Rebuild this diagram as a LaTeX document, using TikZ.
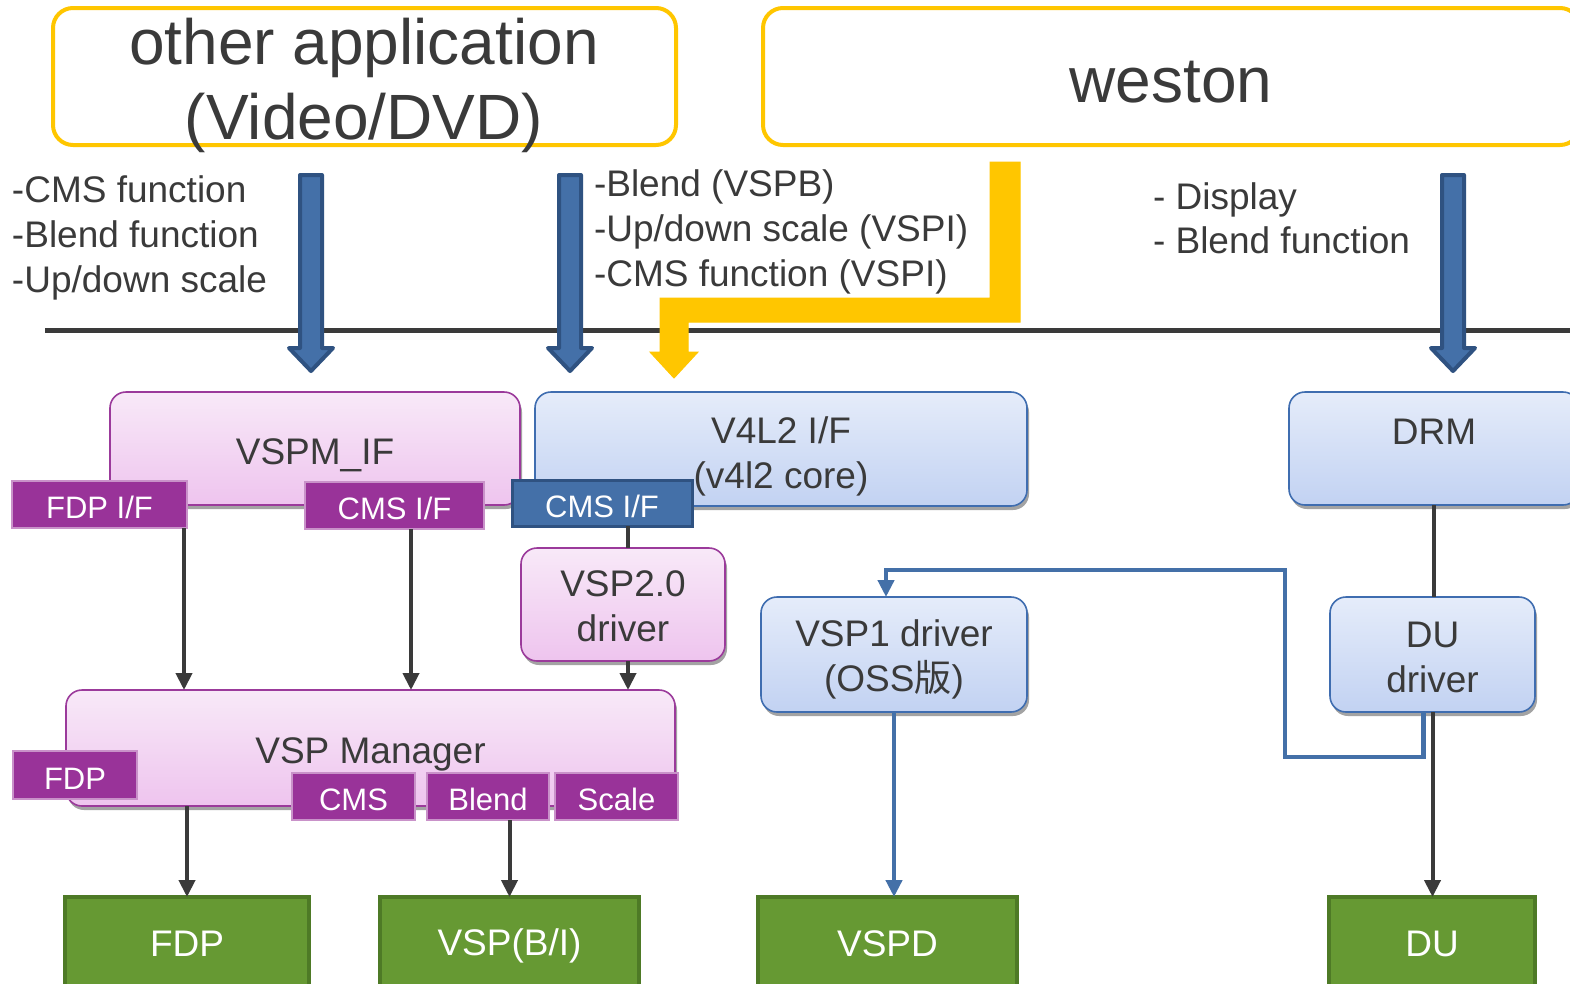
\documentclass[tikz,border=0pt]{standalone}
\usepackage{fontspec}
\setmainfont{Liberation Sans}
\newfontfamily\cjk{Noto Sans CJK JP}
\usetikzlibrary{shadows,arrows.meta,calc}
\definecolor{txt}{HTML}{3A3A3A}
\definecolor{ylw}{HTML}{FFC600}
\definecolor{pinkT}{HTML}{F8E9F8}
\definecolor{pinkB}{HTML}{EEC4EE}
\definecolor{pinkD}{HTML}{9B3A9B}
\definecolor{tabP}{HTML}{993399}
\definecolor{tabPB}{HTML}{C992C9}
\definecolor{blueT}{HTML}{E5ECFA}
\definecolor{blueB}{HTML}{C2D2F2}
\definecolor{blueD}{HTML}{3F6DB0}
\definecolor{arrB}{HTML}{4470A8}
\definecolor{arrBD}{HTML}{2F5281}
\definecolor{grn}{HTML}{669933}
\definecolor{grnD}{HTML}{4E7A26}
\newcommand\bkarrow[1]{%
  \draw[barrow] ({#1-11},175) -- ({#1+11},175) -- ({#1+11},348) -- ({#1+22},348)
     -- (#1,371) -- ({#1-22},348) -- ({#1-11},348) -- cycle;}
\tikzset{
  every node/.style={inner sep=0pt, outer sep=0pt},
  appbox/.style={draw=ylw, line width=4pt, rounded corners=20pt, fill=white},
  apptext/.style={text=txt, font=\fontsize{64}{75}\selectfont, align=center},
  sidetext/.style={text=txt, font=\fontsize{37}{45}\selectfont, align=left, anchor=west},
  shade/.style={drop shadow={shadow xshift=2pt, shadow yshift=-4pt, fill=black!45, opacity=0.8}},
  pinkbox/.style={draw=pinkD, line width=1.6pt, rounded corners=16pt, top color=pinkT, bottom color=pinkB, shade},
  bluebox/.style={draw=blueD, line width=1.6pt, rounded corners=16pt, top color=blueT, bottom color=blueB, shade},
  lbl/.style={text=txt, font=\fontsize{37}{45}\selectfont, align=center},
  wlbl/.style={text=white, font=\fontsize{31}{36}\selectfont},
  glbl/.style={text=white, font=\fontsize{37}{45}\selectfont},
  ptab/.style={fill=tabP, draw=tabPB, line width=2.5pt},
  btab/.style={fill=arrB, draw=arrBD, line width=3pt},
  gbox/.style={fill=grn, draw=grnD, line width=4pt},
  conn/.style={draw=txt, line width=4pt, -{Triangle[length=17pt,width=16pt]}},
  plain/.style={draw=txt, line width=4pt},
  bconn/.style={draw=arrB, line width=4.5pt, -{Triangle[length=17pt,width=16pt]}},
  barrow/.style={fill=arrB, draw=arrBD, line width=4pt, line join=round},
  yarrow/.style={fill=ylw, draw=ylw, line width=1pt},
  sep/.style={draw=txt, line width=5pt}
}
\begin{document}
\begin{tikzpicture}[x=1pt,y=-1pt]
\useasboundingbox (0,0) rectangle (1570,983);
\fill[white] (0,0) rectangle (1570,983);

% application boxes
\node[appbox, minimum width=623pt, minimum height=137pt] (app) at (364.5,76.5) {};
\node[apptext] (apptxt) at (364,85.5) {other application\\(Video/DVD)};
\node[appbox, minimum width=817pt, minimum height=137pt] (weston) at (1171.5,76.5) {};
\node[apptext] (westontxt) at (1171,82) {weston};

% side texts
\node[sidetext] (t1) at (12,238) {-CMS function\\-Blend function\\-Up/down scale};
\node[sidetext] (t2) at (594,232) {-Blend (VSPB)\\-Up/down scale (VSPI)\\-CMS function (VSPI)};
\node[sidetext, font=\fontsize{37}{44}\selectfont] (t3) at (1153,218) {- Display\\- Blend function};

% separator line
\coordinate (sepL) at (45,330);
\coordinate (sepR) at (1570,330);
\draw[sep] (sepL) -- (sepR);

% block arrows
\bkarrow{311}
\bkarrow{570}
\bkarrow{1453}
\draw[yarrow] (990,162) -- (1020,162) -- (1020,322) -- (688,322) -- (688,352) -- (698,352)
   -- (674,378) -- (650,352) -- (660,352) -- (660,298) -- (990,298) -- cycle;

% second row
\node[pinkbox, minimum width=410pt, minimum height=113pt] (vspmif) at (315,448.5) {};
\node[lbl] (vspmif-t) at (315,455.5) {VSPM\_IF};
\node[bluebox, minimum width=492pt, minimum height=114pt] (v4l2) at (781,449) {};
\node[lbl] (v4l2-t) at (781,456.5) {V4L2 I/F\\(v4l2 core)};
\node[bluebox, minimum width=290pt, minimum height=113pt] (drm) at (1434,448.5) {};
\node[lbl] (drm-t) at (1434,432) {DRM};

\node[ptab, minimum width=175pt, minimum height=47pt] (fdpif) at (99.5,504.5) {};
\node[wlbl] (fdpif-t) at (99.5,507.5) {FDP I/F};
\node[ptab, minimum width=179pt, minimum height=47pt] (cmsif) at (394.5,505.5) {};
\node[wlbl] (cmsif-t) at (394.5,508.5) {CMS I/F};
\node[btab, minimum width=180pt, minimum height=46pt] (cmsifb) at (602,503) {};
\node[wlbl] (cmsifb-t) at (602,506) {CMS I/F};

% drivers
\node[pinkbox, minimum width=204pt, minimum height=113pt] (vsp2) at (623,604.5) {};
\node[lbl] (vsp2-t) at (623,606.5) {VSP2.0\\driver};
\node[bluebox, minimum width=266pt, minimum height=115pt] (vsp1) at (894,654.5) {};
\node[lbl] (vsp1-t) at (894,659.5) {VSP1 driver\\(OSS{\cjk 版})};
\node[bluebox, minimum width=205pt, minimum height=115pt] (dudrv) at (1432.5,654.5) {};
\node[lbl] (dudrv-t) at (1432.5,657.5) {DU\\driver};

% VSP manager
\node[pinkbox, minimum width=609pt, minimum height=116pt] (mgr) at (370.5,748) {};
\node[lbl] (mgr-t) at (370.5,754) {VSP Manager};
\node[ptab, minimum width=124pt, minimum height=48pt] (fdpt) at (75,775) {};
\node[wlbl] (fdpt-t) at (75,779) {FDP};
\node[ptab, minimum width=123pt, minimum height=47pt] (cmst) at (353.5,796.5) {};
\node[wlbl] (cmst-t) at (353.5,799.5) {CMS};
\node[ptab, minimum width=122pt, minimum height=47pt] (blendt) at (488,796.5) {};
\node[wlbl] (blendt-t) at (488,799.5) {Blend};
\node[ptab, minimum width=123pt, minimum height=47pt] (scalet) at (616.5,796.5) {};
\node[wlbl] (scalet-t) at (616.5,799.5) {Scale};

% hardware
\node[gbox, minimum width=244pt, minimum height=93pt] (fdpg) at (187,943.5) {};
\node[glbl] (fdpg-t) at (187,943.5) {FDP};
\node[gbox, minimum width=259pt, minimum height=93pt] (vspbi) at (509.5,943.5) {};
\node[glbl] (vspbi-t) at (509.5,945.5) {VSP(B/I)};
\node[gbox, minimum width=259pt, minimum height=93pt] (vspd) at (887.5,943.5) {};
\node[glbl] (vspd-t) at (887.5,943.5) {VSPD};
\node[gbox, minimum width=206pt, minimum height=93pt] (dug) at (1432,943.5) {};
\node[glbl] (dug-t) at (1432,943.5) {DU};

% connectors
\coordinate (s1) at ($(fdpif.south east)+(-3,0)$);
\draw[conn] (s1) -- (s1 |- mgr.north);
\coordinate (s2) at ($(cmsif.south)+(16.5,0)$);
\draw[conn] (s2) -- (s2 |- mgr.north);
\coordinate (s3) at ($(cmsifb.south)+(26,0)$);
\draw[plain] (s3) -- (s3 |- vsp2.north);
\coordinate (s4) at ($(vsp2.south)+(5,0)$);
\draw[conn] (s4) -- (s4 |- mgr.north);
\draw[conn] (fdpg.north |- mgr.south) -- (fdpg.north);
\draw[conn] (vspbi.north |- blendt.south) -- (vspbi.north);
\draw[bconn] (vsp1.south) -- (vsp1.south |- vspd.north);
\draw[plain] (drm.south) -- (drm.south |- dudrv.north);
\draw[conn] (dudrv.south) -- (dudrv.south |- dug.north);
\coordinate (b0) at ($(dudrv.south)+(-9,0)$);
\coordinate (b1) at ($(vsp1.north)+(-8,0)$);
\draw[bconn] (b0) |- (1285,757) |- ($(b1)+(0,-27)$) -- (b1);
\end{tikzpicture}
\end{document}
